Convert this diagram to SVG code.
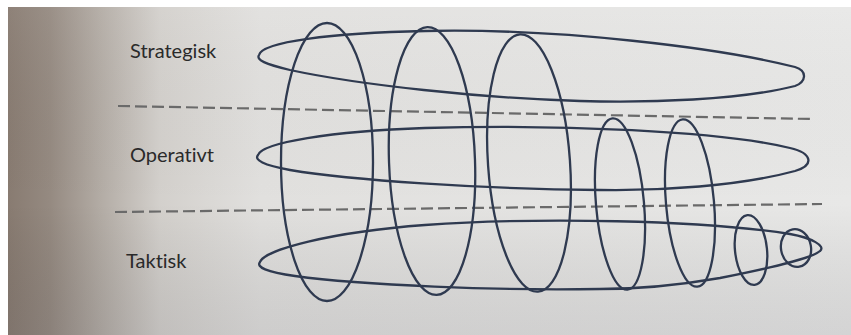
<svg xmlns="http://www.w3.org/2000/svg" width="851" height="335" viewBox="0 0 851 335">
  <defs>
    <linearGradient id="paper" x1="0" y1="0" x2="1" y2="0">
      <stop offset="0" stop-color="#887b71"/>
      <stop offset="0.05" stop-color="#958a81"/>
      <stop offset="0.11" stop-color="#b3aca5"/>
      <stop offset="0.18" stop-color="#d3d0cc"/>
      <stop offset="0.3" stop-color="#e1e0de"/>
      <stop offset="1" stop-color="#e8e8e7"/>
    </linearGradient>
    <linearGradient id="shade" x1="0" y1="0" x2="0" y2="1">
      <stop offset="0" stop-color="#ffffff" stop-opacity="0.05"/>
      <stop offset="0.6" stop-color="#000000" stop-opacity="0"/>
      <stop offset="1" stop-color="#40404a" stop-opacity="0.12"/>
    </linearGradient>
    <style>
      .loop { fill: none; stroke: #2f3a50; stroke-width: 2.3; }
      .sep { fill: none; stroke: #6a6a6a; stroke-width: 2.2; stroke-dasharray: 12 5; }
      .label { font-family: Lato, "Liberation Sans", sans-serif; font-size: 20px; fill: #2a2a2a; font-variant-ligatures: none; }
    </style>
  </defs>
  <rect x="0" y="0" width="851" height="335" fill="#ffffff"/>
  <rect x="8" y="7" width="843" height="328" fill="url(#paper)"/>
  <rect x="8" y="7" width="843" height="328" fill="url(#shade)"/>

  <g id="separators">
    <line class="sep" x1="118" y1="106" x2="812" y2="119"/>
    <line class="sep" x1="115" y1="212" x2="822" y2="204"/>
  </g>

  <g id="label-strategisk"><text class="label" x="130" y="58">Strategisk</text></g>
  <g id="label-operativt"><text class="label" x="130" y="162">Operativt</text></g>
  <g id="label-taktisk"><text class="label" x="126" y="268">Taktisk</text></g>

  <g id="loop-strategisk">
    <path class="loop" d="M259,55 C262,42 330,33 425,31 C560,28 720,48 795,67 C808,71 806,82 795,86 C740,100 650,103 580,101 C480,98 360,85 290,70 C265,64 256,60 259,55 Z"/>
  </g>
  <g id="loop-operativt">
    <path class="loop" d="M258,155 C262,143 330,131 425,128 C560,124 720,131 790,148 C812,153 815,165 795,171 C740,186 660,191 600,190 C480,189 350,180 290,170 C263,165 254,160 258,155 Z"/>
  </g>
  <g id="loop-taktisk">
    <path class="loop" d="M260,262 C264,250 330,232 425,225 C540,217 700,220 790,234 C812,238 826,246 820,251 C812,258 780,266 720,278 C680,285 640,289 600,289 C500,291 360,285 295,276 C266,272 256,267 260,262 Z"/>
  </g>

  <g id="ring-1"><ellipse class="loop" cx="327" cy="162" rx="46" ry="139"/></g>
  <g id="ring-2"><ellipse class="loop" cx="432" cy="161" rx="43" ry="134" transform="rotate(-2 432 161)"/></g>
  <g id="ring-3"><ellipse class="loop" cx="529" cy="163" rx="41" ry="129" transform="rotate(-4 529 163)"/></g>
  <g id="ring-4"><ellipse class="loop" cx="620" cy="204" rx="24" ry="86" transform="rotate(-5 620 204)"/></g>
  <g id="ring-5"><ellipse class="loop" cx="690" cy="203" rx="24" ry="84" transform="rotate(-5 690 203)"/></g>
  <g id="ring-6"><ellipse class="loop" cx="751" cy="250" rx="16" ry="35" transform="rotate(-6 751 250)"/></g>
  <g id="ring-7"><ellipse class="loop" cx="796" cy="248" rx="15" ry="19" transform="rotate(-10 796 248)"/></g>
</svg>
